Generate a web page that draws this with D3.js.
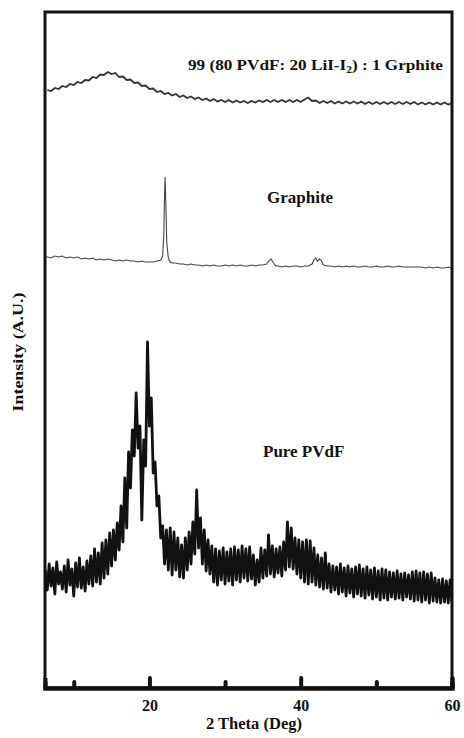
<!DOCTYPE html>
<html>
<head>
<meta charset="utf-8">
<script src="https://cdn.jsdelivr.net/npm/d3@7"></script>
<style>
  body { margin: 0; background: #fff; }
  text { font-family: "Liberation Serif", "Times New Roman", serif; font-weight: bold; fill: #111; }
</style>
</head>
<body>
<div id="chart"></div>
<script>
// X-ray diffraction patterns, intensities in arbitrary units (stacked with offsets)

// Pure PVdF: scan from 6.25 deg, 0.25 deg step
var pvdfStart = 6.25,
    pvdfStep  = 0.25;
var pvdfIntensity = [
  118, 98, 124, 102,   120, 94, 126, 104,   116, 99, 122, 96,   128, 103, 119, 92,
  125, 101, 130, 100,  121, 97, 127, 104,   132, 102, 139, 106,  135, 104, 145, 110,
  148, 114, 155, 122,  158, 128, 165, 138,  182, 146, 210, 160,  236, 200, 258, 232,
  295, 240, 262, 168,  248, 222, 346, 262,  290, 215, 226, 182,  192, 150, 162, 124,
  158, 118, 160, 113,  156, 118, 150, 111,  143, 110, 150, 118,  156, 124, 166, 134,
  198, 140, 170, 124,  158, 117, 148, 114,  142, 106, 139, 103,  137, 108, 140, 104,
  136, 107, 139, 103,  141, 108, 138, 106,  142, 110, 139, 107,  141, 109, 133, 103,
  128, 106, 140, 110,  138, 112, 153, 114,  142, 111, 139, 115,  141, 112, 146, 118,
  166, 121, 160, 119,  150, 114, 148, 110,  146, 106, 148, 104,  147, 106, 140, 103,
  133, 101, 130, 99,   135, 100, 124, 96,   122, 98, 121, 94,    124, 96, 120, 92,
  122, 95, 119, 91,    121, 94, 123, 92,    119, 90, 121, 93,    118, 89, 120, 91,
  117, 88, 119, 90,    118, 88, 116, 91,    115, 89, 117, 90,    114, 88, 115, 91,
  113, 89, 116, 87,    117, 88, 115, 86,    116, 88, 114, 85,    115, 87, 110, 86,
  108, 85, 109, 86,    107, 85, 108, 86
];

// Graphite: irregular sampling (finer around the peaks)
var graphiteTheta = [
  6.2, 6.5, 7, 7.5, 8, 8.5, 9, 9.5, 10, 10.5, 11, 11.5, 12, 12.5, 13, 13.5, 14, 14.5, 15, 15.5,
  16, 16.5, 17, 17.5, 18, 18.5, 19, 19.5, 20, 20.5, 21, 21.5, 21.75, 21.9, 22.0, 22.08, 22.16, 22.3, 22.5, 22.75,
  23, 23.5, 24, 24.5, 25, 25.5, 26, 26.5, 27, 27.5, 28, 28.5, 29, 29.5, 30, 30.5, 31, 31.5, 32, 32.5,
  33, 33.5, 34, 34.5, 35, 35.5, 35.8, 36.1, 36.4, 36.7, 37, 37.5, 38, 38.5, 39, 39.5, 40, 40.5, 41, 41.5,
  41.8, 42.0, 42.2, 42.5, 42.7, 43.0, 43.5, 44, 44.5, 45, 45.5, 46, 46.5, 47, 47.5, 48, 48.5, 49, 49.5, 50,
  50.5, 51, 51.5, 52, 52.5, 53, 53.5, 54, 55, 56, 56.5, 57, 57.5, 58, 58.5, 59, 59.5, 60
];
var graphiteIntensity = [
  431, 431, 430, 432, 431, 432, 430, 431, 430, 431, 429, 430, 429, 430, 428, 429, 428, 429, 428, 427,
  428, 427, 428, 427, 427, 426, 427, 426, 426, 426, 427, 428, 432, 452, 492, 511, 488, 445, 430, 426,
  425, 425, 424, 424, 423, 424, 423, 423, 422, 423, 422, 423, 422, 422, 423, 422, 423, 422, 423, 422,
  422, 423, 422, 423, 423, 424, 427, 429, 425, 422, 422, 421, 422, 421, 422, 422, 421, 422, 422, 424,
  429, 430, 427, 429, 428, 423, 422, 422, 421, 422, 421, 422, 421, 422, 421, 421, 422, 421, 421, 422,
  421, 421, 422, 421, 421, 422, 421, 421, 421, 421, 420, 421, 420, 421, 420, 420, 421, 420
];

// 99 (80 PVdF : 20 LiI-I2) : 1 Graphite: scan from 6.5 deg, 0.5 deg step
var blendStart = 6.5,
    blendStep  = 0.5;
var blendIntensity = [
  598, 597, 600, 599, 602, 601, 604, 603, 606, 605, 608, 607.5, 611, 610, 613.5, 613, 616, 614, 615, 611,
  611.5, 608, 608.5, 605, 605.5, 602, 602.5, 599, 599.5, 596, 597, 594, 595, 592.5, 594, 591, 592.5, 590, 591.5, 589,
  590.5, 588, 589.5, 587, 589, 586.5, 588, 586, 588, 585.5, 587.5, 585.5, 587, 585, 587, 585.5, 587.5, 586, 588, 586,
  588, 586, 588, 586, 588, 586, 588, 586, 588.5, 590.5, 587, 587.5, 585, 587, 585, 587, 584.5, 586.5, 584.5, 586.5,
  584.5, 586.5, 584.5, 586.5, 584, 586, 584, 586, 584, 586, 584, 586, 584, 586, 584, 586, 584, 586, 583.5, 585.5,
  583.5, 585.5, 583.5, 585.5, 583.5, 585.5, 583.5, 585
];

// Axis ticks
var majorTicks = [20, 40, 60],
    minorTicks = [10, 30, 50];

// Curve labels
var labels = [
  { text: "99 (80 PVdF: 20 LiI-I", sub: "2", after: ") : 1 Grphite" },
  { text: "Graphite" },
  { text: "Pure PVdF" }
];

var width  = 464,
    height = 738;
var margin = { top: 12, right: 12, bottom: 50, left: 45 };

var svg = d3.select("#chart")
  .append("svg")
    .attr("width", width)
    .attr("height", height);

var x = d3.scaleLinear()
  .domain([6.2, 60])
  .range([margin.left, width - margin.right]);

var y = d3.scaleLinear()
  .domain([0, 676])
  .range([height - margin.bottom, margin.top]);

// Clip curves to the frame
svg.append("clipPath")
    .attr("id", "plotclip")
  .append("rect")
    .attr("x", margin.left)
    .attr("y", margin.top)
    .attr("width", x.range()[1] - margin.left)
    .attr("height", y.range()[0] - margin.top);

var line = d3.line()
  .x(function(d) { return x(d[0]); })
  .y(function(d) { return y(d[1]); });

var pvdf = pvdfIntensity.map(function(v, i) { return [pvdfStart + i * pvdfStep, v]; });
var blend = blendIntensity.map(function(v, i) { return [blendStart + i * blendStep, v]; });
var graphite = graphiteTheta.map(function(t, i) { return [t, graphiteIntensity[i]]; });

var curves = svg.append("g").attr("clip-path", "url(#plotclip)");

curves.append("path")
    .datum(pvdf)
    .attr("d", line)
    .attr("fill", "none")
    .attr("stroke", "#111")
    .attr("stroke-width", 2.8)
    .attr("stroke-linejoin", "round");

curves.append("path")
    .datum(graphite)
    .attr("d", line)
    .attr("fill", "none")
    .attr("stroke", "#444")
    .attr("stroke-width", 1.1);

curves.append("path")
    .datum(blend)
    .attr("d", line)
    .attr("fill", "none")
    .attr("stroke", "#333")
    .attr("stroke-width", 1.8);

// Frame
svg.append("rect")
    .attr("x", margin.left)
    .attr("y", margin.top)
    .attr("width", x.range()[1] - margin.left)
    .attr("height", y.range()[0] - margin.top)
    .attr("fill", "none")
    .attr("stroke", "#111")
    .attr("stroke-width", 3);

// Bottom axis: ticks point inward
var xAxisMajor = d3.axisBottom(x)
  .tickValues(majorTicks)
  .tickSize(-10)
  .tickPadding(20)
  .tickFormat(d3.format("d"));

var xAxisMinor = d3.axisBottom(x)
  .tickValues(minorTicks)
  .tickSize(-6)
  .tickFormat("");

var gMajor = svg.append("g")
    .attr("transform", "translate(0," + y.range()[0] + ")")
    .call(xAxisMajor);
var gMinor = svg.append("g")
    .attr("transform", "translate(0," + y.range()[0] + ")")
    .call(xAxisMinor);

[gMajor, gMinor].forEach(function(g) {
  g.select(".domain")
    .attr("stroke", "#111")
    .attr("stroke-width", 4);
  g.selectAll(".tick line")
    .attr("stroke", "#111")
    .attr("stroke-width", 4)
    .attr("stroke-linecap", "round");
});

gMajor.selectAll(".tick text")
    .attr("fill", "#111")
    .attr("dy", "0")
    .attr("y", 23)
    .style("font-size", "16px")
    .style("font-family", "Liberation Serif, serif")
    .style("font-weight", "bold");

// Axis titles
svg.append("text")
    .attr("x", 254)
    .attr("y", 729)
    .attr("text-anchor", "middle")
    .style("font-size", "16.5px")
    .text("2 Theta (Deg)");

svg.append("text")
    .attr("transform", "translate(23,352) rotate(-90)")
    .attr("text-anchor", "middle")
    .attr("textLength", 119)
    .attr("lengthAdjust", "spacingAndGlyphs")
    .style("font-size", "15px")
    .text("Intensity (A.U.)");

// Curve labels
var topLabel = svg.append("text")
    .attr("x", 188)
    .attr("y", 70)
    .attr("textLength", 255)
    .attr("lengthAdjust", "spacingAndGlyphs")
    .style("font-size", "15px");
topLabel.append("tspan").text(labels[0].text);
topLabel.append("tspan").attr("dy", 3).style("font-size", "10px").text(labels[0].sub);
topLabel.append("tspan").attr("dy", -3).text(labels[0].after);

svg.append("text")
    .attr("x", 267)
    .attr("y", 203)
    .style("font-size", "17px")
    .text(labels[1].text);

svg.append("text")
    .attr("x", 263)
    .attr("y", 457)
    .style("font-size", "17px")
    .text(labels[2].text);
</script>
</body>
</html>
